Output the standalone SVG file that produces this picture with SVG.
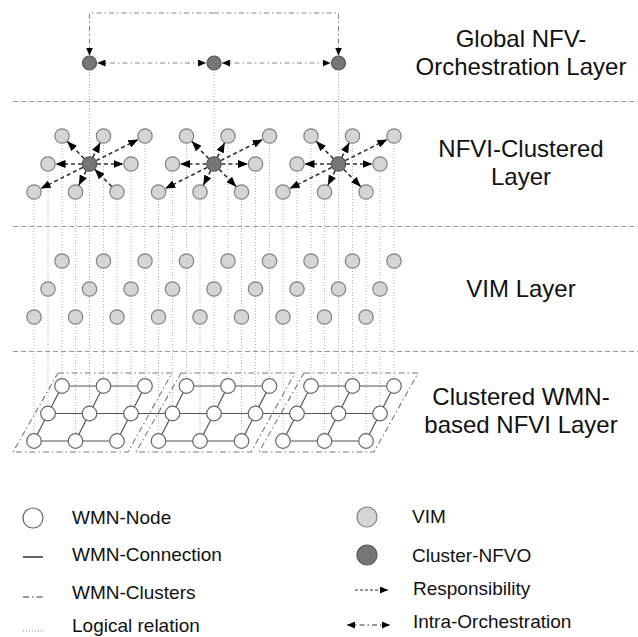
<svg xmlns="http://www.w3.org/2000/svg" width="638" height="637" viewBox="0 0 638 637">
<style>
.sep{stroke:#9a9a9a;stroke-width:1.2;stroke-dasharray:5 3;fill:none}
.dot{stroke:#b4b4b4;stroke-width:1;stroke-dasharray:1 2;fill:none}
.dd{stroke:#888;stroke-width:1.1;stroke-dasharray:5 3 1.5 3;fill:none}
.clu{stroke:#7a7a7a;stroke-width:1.1;stroke-dasharray:6 3 1.5 3;fill:none}
.wl{stroke:#555;stroke-width:1.2;fill:none}
.resp{stroke:#333;stroke-width:1.6;stroke-dasharray:4 3;fill:none;marker-end:url(#ah)}
.wmn{fill:#fff;stroke:#666;stroke-width:1.2}
.vim{fill:#d5d5d5;stroke:#808080;stroke-width:1.2}
.nfvo{fill:#767676;stroke:#555;stroke-width:1.2}
.lbl{font-family:"Liberation Sans",Arial,sans-serif;font-size:24px;fill:#111;text-anchor:middle}
.leg{font-family:"Liberation Sans",Arial,sans-serif;font-size:19px;fill:#111}
</style>
<defs>
<marker id="ah" viewBox="0 0 10 8" markerWidth="10" markerHeight="8" markerUnits="userSpaceOnUse" refX="10" refY="4" orient="auto"><path d="M0,0L10,4L0,8z" fill="#000"/></marker>
<marker id="as" viewBox="0 0 8 7" markerWidth="8" markerHeight="7" markerUnits="userSpaceOnUse" refX="8" refY="3.5" orient="auto-start-reverse"><path d="M0,0L8,3.5L0,7z" fill="#000"/></marker>
</defs>
<rect width="638" height="637" fill="#fff"/>

<g id="separators">
<line class="sep" x1="13" y1="101.5" x2="638" y2="101.5"/>
<line class="sep" x1="13" y1="226.5" x2="638" y2="226.5"/>
<line class="sep" x1="13" y1="351.5" x2="638" y2="351.5"/>
</g>

<g id="layer-labels">
<text class="lbl" x="521" y="47">Global NFV-</text>
<text class="lbl" x="521" y="75">Orchestration Layer</text>
<text class="lbl" x="521" y="157">NFVI-Clustered</text>
<text class="lbl" x="521" y="185">Layer</text>
<text class="lbl" x="521" y="297">VIM Layer</text>
<text class="lbl" x="521" y="405">Clustered WMN-</text>
<text class="lbl" x="521" y="433">based NFVI Layer</text>
</g>

<g id="connectors">
<path class="dot" d="M62 136V386M103.5 136V386M145 136V386M186.5 136V386M228 136V386M269.5 136V386M311 136V386M352.5 136V386M394 136V386
M48 164V413.5M89.5 63V413.5M131 164V413.5M172.5 164V413.5M214 63V413.5M255.5 164V413.5M297 164V413.5M338.5 63V413.5M380 164V413.5
M34 192V441M75.5 192V441M117 192V441M158.5 192V441M200 192V441M241.5 192V441M283 192V441M324.5 192V441M366 192V441"/>
<path class="dd" d="M214 13H89.5V55.5" marker-end="url(#as)"/>
<path class="dd" d="M214 13H338.5V55.5" marker-end="url(#as)"/>
<line class="dd" x1="97.5" y1="63" x2="206" y2="63" marker-start="url(#as)" marker-end="url(#as)"/>
<line class="dd" x1="222" y1="63" x2="330.5" y2="63" marker-start="url(#as)" marker-end="url(#as)"/>

<line class="resp" x1="84.25" y1="158.65" x2="67.25" y2="141.35"/>
<line class="resp" x1="92.85" y1="157.29" x2="100.15" y2="142.71"/>
<line class="resp" x1="96.2" y1="160.62" x2="138.3" y2="139.38"/>
<line class="resp" x1="82" y1="164" x2="55.5" y2="164"/>
<line class="resp" x1="97" y1="164" x2="123.5" y2="164"/>
<line class="resp" x1="82.8" y1="167.38" x2="40.7" y2="188.62"/>
<line class="resp" x1="86.15" y1="170.71" x2="78.85" y2="185.29"/>
<line class="resp" x1="111.75" y1="186.65" x2="94.75" y2="169.35"/>

<line class="resp" x1="208.75" y1="158.65" x2="191.75" y2="141.35"/>
<line class="resp" x1="217.35" y1="157.29" x2="224.65" y2="142.71"/>
<line class="resp" x1="220.7" y1="160.62" x2="262.8" y2="139.38"/>
<line class="resp" x1="206.5" y1="164" x2="180" y2="164"/>
<line class="resp" x1="221.5" y1="164" x2="248" y2="164"/>
<line class="resp" x1="207.3" y1="167.38" x2="165.2" y2="188.62"/>
<line class="resp" x1="210.65" y1="170.71" x2="203.35" y2="185.29"/>
<line class="resp" x1="219.25" y1="169.35" x2="236.25" y2="186.65"/>

<line class="resp" x1="333.25" y1="158.65" x2="316.25" y2="141.35"/>
<line class="resp" x1="341.85" y1="157.29" x2="349.15" y2="142.71"/>
<line class="resp" x1="345.2" y1="160.62" x2="387.3" y2="139.38"/>
<line class="resp" x1="331" y1="164" x2="304.5" y2="164"/>
<line class="resp" x1="346" y1="164" x2="372.5" y2="164"/>
<line class="resp" x1="331.8" y1="167.38" x2="289.7" y2="188.62"/>
<line class="resp" x1="335.15" y1="170.71" x2="327.85" y2="185.29"/>
<line class="resp" x1="343.75" y1="169.35" x2="360.75" y2="186.65"/>

<polygon class="clu" points="58,373 172,373 128,452 13,452"/>
<polygon class="clu" points="181,373 295,373 251,452 136,452"/>
<polygon class="clu" points="304,373 418,373 374,452 259,452"/>

<path class="wl" d="M62 386H145M186.5 386H269.5M311 386H394M48 413.5H380M34 441H117M158.5 441H241.5M283 441H366
M34 441L62 386M75.5 441L103.5 386M117 441L145 386M158.5 441L186.5 386M200 441L228 386M241.5 441L269.5 386M283 441L311 386M324.5 441L352.5 386M366 441L394 386"/>
</g>

<g id="global-nfvo">
<g id="g-nfvo-1"><circle class="nfvo" cx="89.5" cy="63" r="7"/></g>
<g id="g-nfvo-2"><circle class="nfvo" cx="214" cy="63" r="7"/></g>
<g id="g-nfvo-3"><circle class="nfvo" cx="338.5" cy="63" r="7"/></g>
</g>

<g id="cluster-layer">
<g id="c-t1"><circle class="vim" cx="62" cy="136" r="7.2"/></g>
<g id="c-t2"><circle class="vim" cx="103.5" cy="136" r="7.2"/></g>
<g id="c-t3"><circle class="vim" cx="145" cy="136" r="7.2"/></g>
<g id="c-t4"><circle class="vim" cx="186.5" cy="136" r="7.2"/></g>
<g id="c-t5"><circle class="vim" cx="228" cy="136" r="7.2"/></g>
<g id="c-t6"><circle class="vim" cx="269.5" cy="136" r="7.2"/></g>
<g id="c-t7"><circle class="vim" cx="311" cy="136" r="7.2"/></g>
<g id="c-t8"><circle class="vim" cx="352.5" cy="136" r="7.2"/></g>
<g id="c-t9"><circle class="vim" cx="394" cy="136" r="7.2"/></g>
<g id="c-m1"><circle class="vim" cx="48" cy="164" r="7.2"/></g>
<g id="c-nfvo-1"><circle class="nfvo" cx="89.5" cy="164" r="7.2"/></g>
<g id="c-m3"><circle class="vim" cx="131" cy="164" r="7.2"/></g>
<g id="c-m4"><circle class="vim" cx="172.5" cy="164" r="7.2"/></g>
<g id="c-nfvo-2"><circle class="nfvo" cx="214" cy="164" r="7.2"/></g>
<g id="c-m6"><circle class="vim" cx="255.5" cy="164" r="7.2"/></g>
<g id="c-m7"><circle class="vim" cx="297" cy="164" r="7.2"/></g>
<g id="c-nfvo-3"><circle class="nfvo" cx="338.5" cy="164" r="7.2"/></g>
<g id="c-m9"><circle class="vim" cx="380" cy="164" r="7.2"/></g>
<g id="c-b1"><circle class="vim" cx="34" cy="192" r="7.2"/></g>
<g id="c-b2"><circle class="vim" cx="75.5" cy="192" r="7.2"/></g>
<g id="c-b3"><circle class="vim" cx="117" cy="192" r="7.2"/></g>
<g id="c-b4"><circle class="vim" cx="158.5" cy="192" r="7.2"/></g>
<g id="c-b5"><circle class="vim" cx="200" cy="192" r="7.2"/></g>
<g id="c-b6"><circle class="vim" cx="241.5" cy="192" r="7.2"/></g>
<g id="c-b7"><circle class="vim" cx="283" cy="192" r="7.2"/></g>
<g id="c-b8"><circle class="vim" cx="324.5" cy="192" r="7.2"/></g>
<g id="c-b9"><circle class="vim" cx="366" cy="192" r="7.2"/></g>
</g>

<g id="vim-layer">
<g id="v-t1"><circle class="vim" cx="62" cy="261" r="7.2"/></g>
<g id="v-t2"><circle class="vim" cx="103.5" cy="261" r="7.2"/></g>
<g id="v-t3"><circle class="vim" cx="145" cy="261" r="7.2"/></g>
<g id="v-t4"><circle class="vim" cx="186.5" cy="261" r="7.2"/></g>
<g id="v-t5"><circle class="vim" cx="228" cy="261" r="7.2"/></g>
<g id="v-t6"><circle class="vim" cx="269.5" cy="261" r="7.2"/></g>
<g id="v-t7"><circle class="vim" cx="311" cy="261" r="7.2"/></g>
<g id="v-t8"><circle class="vim" cx="352.5" cy="261" r="7.2"/></g>
<g id="v-t9"><circle class="vim" cx="394" cy="261" r="7.2"/></g>
<g id="v-m1"><circle class="vim" cx="48" cy="289" r="7.2"/></g>
<g id="v-m2"><circle class="vim" cx="89.5" cy="289" r="7.2"/></g>
<g id="v-m3"><circle class="vim" cx="131" cy="289" r="7.2"/></g>
<g id="v-m4"><circle class="vim" cx="172.5" cy="289" r="7.2"/></g>
<g id="v-m5"><circle class="vim" cx="214" cy="289" r="7.2"/></g>
<g id="v-m6"><circle class="vim" cx="255.5" cy="289" r="7.2"/></g>
<g id="v-m7"><circle class="vim" cx="297" cy="289" r="7.2"/></g>
<g id="v-m8"><circle class="vim" cx="338.5" cy="289" r="7.2"/></g>
<g id="v-m9"><circle class="vim" cx="380" cy="289" r="7.2"/></g>
<g id="v-b1"><circle class="vim" cx="34" cy="317" r="7.2"/></g>
<g id="v-b2"><circle class="vim" cx="75.5" cy="317" r="7.2"/></g>
<g id="v-b3"><circle class="vim" cx="117" cy="317" r="7.2"/></g>
<g id="v-b4"><circle class="vim" cx="158.5" cy="317" r="7.2"/></g>
<g id="v-b5"><circle class="vim" cx="200" cy="317" r="7.2"/></g>
<g id="v-b6"><circle class="vim" cx="241.5" cy="317" r="7.2"/></g>
<g id="v-b7"><circle class="vim" cx="283" cy="317" r="7.2"/></g>
<g id="v-b8"><circle class="vim" cx="324.5" cy="317" r="7.2"/></g>
<g id="v-b9"><circle class="vim" cx="366" cy="317" r="7.2"/></g>
</g>

<g id="wmn-layer">
<g id="w-t1"><circle class="wmn" cx="62" cy="386" r="7.3"/></g>
<g id="w-t2"><circle class="wmn" cx="103.5" cy="386" r="7.3"/></g>
<g id="w-t3"><circle class="wmn" cx="145" cy="386" r="7.3"/></g>
<g id="w-t4"><circle class="wmn" cx="186.5" cy="386" r="7.3"/></g>
<g id="w-t5"><circle class="wmn" cx="228" cy="386" r="7.3"/></g>
<g id="w-t6"><circle class="wmn" cx="269.5" cy="386" r="7.3"/></g>
<g id="w-t7"><circle class="wmn" cx="311" cy="386" r="7.3"/></g>
<g id="w-t8"><circle class="wmn" cx="352.5" cy="386" r="7.3"/></g>
<g id="w-t9"><circle class="wmn" cx="394" cy="386" r="7.3"/></g>
<g id="w-m1"><circle class="wmn" cx="48" cy="413.5" r="7.3"/></g>
<g id="w-m2"><circle class="wmn" cx="89.5" cy="413.5" r="7.3"/></g>
<g id="w-m3"><circle class="wmn" cx="131" cy="413.5" r="7.3"/></g>
<g id="w-m4"><circle class="wmn" cx="172.5" cy="413.5" r="7.3"/></g>
<g id="w-m5"><circle class="wmn" cx="214" cy="413.5" r="7.3"/></g>
<g id="w-m6"><circle class="wmn" cx="255.5" cy="413.5" r="7.3"/></g>
<g id="w-m7"><circle class="wmn" cx="297" cy="413.5" r="7.3"/></g>
<g id="w-m8"><circle class="wmn" cx="338.5" cy="413.5" r="7.3"/></g>
<g id="w-m9"><circle class="wmn" cx="380" cy="413.5" r="7.3"/></g>
<g id="w-b1"><circle class="wmn" cx="34" cy="441" r="7.3"/></g>
<g id="w-b2"><circle class="wmn" cx="75.5" cy="441" r="7.3"/></g>
<g id="w-b3"><circle class="wmn" cx="117" cy="441" r="7.3"/></g>
<g id="w-b4"><circle class="wmn" cx="158.5" cy="441" r="7.3"/></g>
<g id="w-b5"><circle class="wmn" cx="200" cy="441" r="7.3"/></g>
<g id="w-b6"><circle class="wmn" cx="241.5" cy="441" r="7.3"/></g>
<g id="w-b7"><circle class="wmn" cx="283" cy="441" r="7.3"/></g>
<g id="w-b8"><circle class="wmn" cx="324.5" cy="441" r="7.3"/></g>
<g id="w-b9"><circle class="wmn" cx="366" cy="441" r="7.3"/></g>
</g>

<g id="legend">
<circle class="wmn" cx="33" cy="518" r="10"/>
<text class="leg" x="72" y="524">WMN-Node</text>
<line x1="23" y1="557" x2="43" y2="557" stroke="#333" stroke-width="1.5"/>
<text class="leg" x="72" y="561">WMN-Connection</text>
<line class="clu" x1="23" y1="597" x2="43" y2="597" style="stroke:#333"/>
<text class="leg" x="72" y="599">WMN-Clusters</text>
<line class="dot" x1="23" y1="631" x2="43" y2="631" style="stroke:#888"/>
<text class="leg" x="72" y="632">Logical relation</text>
<circle class="vim" cx="367" cy="517" r="10"/>
<text class="leg" x="412" y="523">VIM</text>
<circle class="nfvo" cx="367" cy="555" r="10"/>
<text class="leg" x="412" y="562">Cluster-NFVO</text>
<line x1="355" y1="590" x2="388" y2="590" stroke="#333" stroke-width="1" stroke-dasharray="3 2" marker-end="url(#as)"/>
<text class="leg" x="413" y="595">Responsibility</text>
<line x1="347" y1="625" x2="390" y2="625" stroke="#333" stroke-width="1" stroke-dasharray="5 3 1.5 3" marker-start="url(#as)" marker-end="url(#as)"/>
<text class="leg" x="413" y="628">Intra-Orchestration</text>
</g>
</svg>
